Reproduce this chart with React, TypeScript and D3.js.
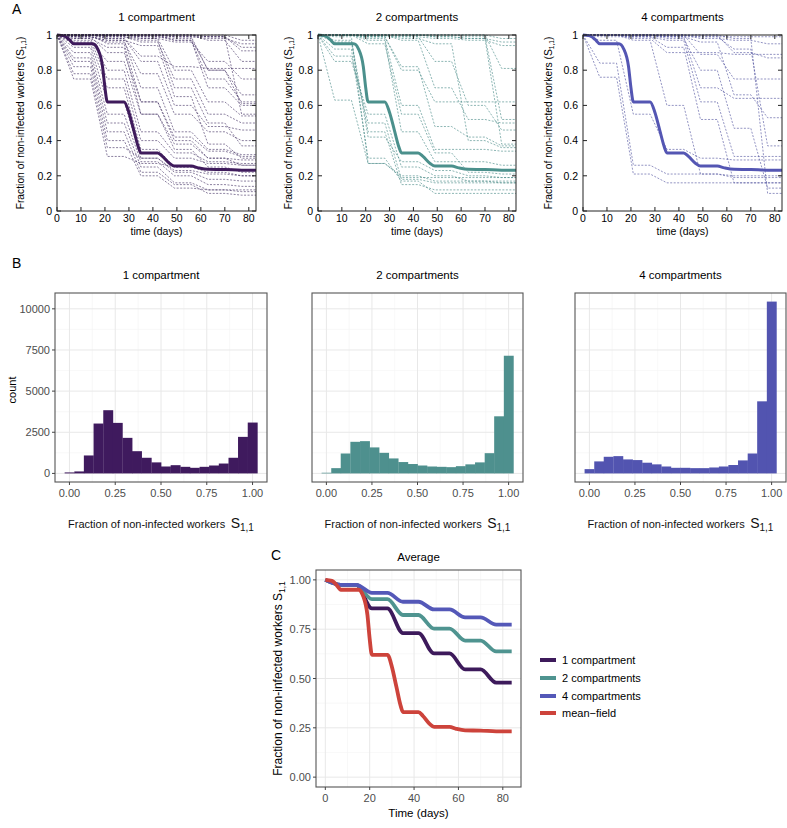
import React from 'react';
import * as d3 from 'd3';

const FONT = "'Liberation Sans', Arial, Helvetica, sans-serif";

// ---------- Panel A / C data ----------
const DAYS = [0, 7, 14, 21, 28, 35, 42, 49, 56, 63, 70, 77, 84];
const MF_DAYS = [0, 3, 5, 7, 15, 17, 19, 20, 21, 28, 30, 32, 34, 35, 42, 44, 47, 49, 56, 59, 63, 70, 77, 84];
const MEAN_FIELD = [1, 0.995, 0.975, 0.95, 0.95, 0.92, 0.82, 0.70, 0.62, 0.62, 0.56, 0.46, 0.36, 0.33, 0.33, 0.31, 0.27, 0.255, 0.255, 0.245, 0.237, 0.236, 0.232, 0.232];
const AVG_1 = [1, 0.975, 0.975, 0.855, 0.855, 0.73, 0.73, 0.627, 0.627, 0.546, 0.546, 0.479, 0.479];
const AVG_2 = [1, 0.975, 0.975, 0.902, 0.902, 0.822, 0.822, 0.753, 0.753, 0.692, 0.692, 0.637, 0.637];
const AVG_4 = [1, 0.975, 0.975, 0.934, 0.934, 0.889, 0.889, 0.85, 0.85, 0.81, 0.81, 0.773, 0.773];

const TRAJ_1 = [
  [1, .97, .97, .75, .75, .40, .40, .30, .30, .27, .27, .26, .26],
  [1, .95, .95, .70, .70, .35, .35, .25, .25, .22, .22, .20, .20],
  [1, .93, .93, .62, .62, .30, .30, .22, .22, .18, .18, .17, .17],
  [1, .90, .90, .55, .55, .28, .28, .20, .20, .15, .15, .14, .14],
  [1, .87, .87, .50, .50, .25, .25, .16, .16, .12, .12, .11, .11],
  [1, .85, .85, .45, .45, .22, .22, .15, .15, .10, .10, .09, .09],
  [1, .82, .82, .40, .40, .20, .20, .13, .13, .12, .12, .12, .12],
  [1, .78, .78, .36, .36, .30, .30, .23, .23, .21, .21, .20, .20],
  [1, .75, .75, .31, .31, .27, .27, .25, .25, .24, .24, .23, .23],
  [1, .98, .98, .80, .80, .45, .45, .33, .33, .28, .28, .27, .27],
  [1, .96, .96, .85, .85, .55, .55, .38, .38, .30, .30, .29, .29],
  [1, .99, .99, .90, .90, .62, .62, .42, .42, .34, .34, .31, .31],
  [1, .99, .99, .97, .97, .70, .70, .45, .45, .35, .35, .32, .32],
  [1, 1, 1, .95, .95, .62, .62, .40, .40, .30, .30, .26, .26],
  [1, .98, .98, .93, .93, .55, .55, .35, .35, .25, .25, .22, .22],
  [1, .99, .99, .96, .96, .78, .78, .55, .55, .45, .45, .40, .40],
  [1, 1, 1, .98, .98, .85, .85, .60, .60, .48, .48, .46, .46],
  [1, 1, 1, .99, .99, .97, .97, .70, .70, .50, .50, .37, .37],
  [1, 1, 1, 1, 1, .98, .98, .80, .80, .62, .62, .54, .54],
  [1, 1, 1, .99, .99, .96, .96, .75, .75, .55, .55, .50, .50],
  [1, .99, .99, .97, .97, .94, .94, .65, .65, .38, .38, .30, .30],
  [1, 1, 1, 1, 1, .99, .99, .98, .98, .80, .80, .66, .66],
  [1, 1, 1, 1, 1, 1, 1, .97, .97, .75, .75, .62, .62],
  [1, 1, 1, .99, .99, .98, .98, .96, .96, .85, .85, .75, .75],
  [1, 1, 1, 1, 1, .99, .99, .97, .97, .70, .70, .60, .60],
  [1, 1, 1, 1, 1, 1, 1, 1, 1, .99, .99, .55, .55],
  [1, 1, 1, 1, 1, 1, 1, .99, .99, .80, .80, .61, .61],
  [1, 1, 1, 1, 1, 1, 1, 1, 1, .97, .97, .85, .85],
  [1, 1, 1, 1, 1, .99, .99, .99, .99, .98, .98, .95, .95],
  [1, 1, 1, 1, 1, 1, 1, .99, .99, .99, .99, .93, .93],
  [1, 1, 1, 1, 1, 1, 1, 1, 1, 1, 1, .97, .97],
  [1, 1, 1, 1, 1, 1, 1, 1, 1, .99, .99, .91, .91],
  [1, 1, 1, .98, .98, .88, .88, .82, .82, .81, .81, .81, .81],
];

const TRAJ_2 = [
  [1, .63, .63, .27, .27, .19, .19, .19, .19, .19, .19, .19, .19],
  [1, .85, .85, .55, .55, .25, .25, .20, .20, .17, .17, .16, .16],
  [1, .88, .88, .50, .50, .18, .18, .16, .16, .16, .16, .16, .16],
  [1, .97, .97, .45, .45, .15, .15, .12, .12, .12, .12, .12, .12],
  [1, .96, .96, .42, .42, .28, .28, .23, .23, .20, .20, .19, .19],
  [1, .99, .99, .27, .27, .20, .20, .17, .17, .17, .17, .17, .17],
  [1, 1, 1, .95, .95, .55, .55, .33, .33, .22, .22, .21, .21],
  [1, 1, 1, .98, .98, .60, .60, .35, .35, .35, .35, .34, .34],
  [1, 1, 1, .97, .97, .45, .45, .28, .28, .28, .28, .26, .26],
  [1, 1, 1, .99, .99, .80, .80, .62, .62, .62, .62, .62, .62],
  [1, 1, 1, 1, 1, .97, .97, .70, .70, .52, .52, .50, .50],
  [1, 1, 1, 1, 1, .99, .99, .85, .85, .60, .60, .46, .46],
  [1, 1, 1, 1, 1, .98, .98, .95, .95, .40, .40, .36, .36],
  [1, 1, 1, 1, 1, 1, 1, .99, .99, .98, .98, .38, .38],
  [1, 1, 1, 1, 1, 1, 1, 1, 1, .99, .99, .52, .52],
  [1, 1, 1, 1, 1, 1, 1, 1, 1, 1, 1, .81, .81],
  [1, 1, 1, 1, 1, 1, 1, .99, .99, .98, .98, .96, .96],
  [1, 1, 1, 1, 1, 1, 1, 1, 1, 1, 1, .98, .98],
  [1, 1, 1, .99, .99, .99, .99, .98, .98, .97, .97, .94, .94],
  [1, .92, .92, .30, .30, .17, .17, .10, .10, .10, .10, .10, .10],
  [1, 1, 1, .99, .99, .82, .82, .48, .48, .42, .42, .37, .37],
];

const TRAJ_4 = [
  [1, .76, .76, .21, .21, .16, .16, .16, .16, .16, .16, .16, .16],
  [1, .84, .84, .26, .26, .21, .21, .21, .21, .19, .19, .19, .19],
  [1, .97, .97, .55, .55, .35, .35, .30, .30, .29, .29, .29, .29],
  [1, 1, 1, .97, .97, .60, .60, .21, .21, .20, .20, .20, .20],
  [1, 1, 1, .99, .99, .93, .93, .52, .52, .16, .16, .16, .16],
  [1, 1, 1, 1, 1, .98, .98, .80, .80, .47, .47, .13, .13],
  [1, 1, 1, .99, .99, .97, .97, .62, .62, .31, .31, .31, .31],
  [1, 1, 1, 1, 1, .99, .99, .96, .96, .66, .66, .53, .53],
  [1, 1, 1, 1, 1, 1, 1, .99, .99, .92, .92, .37, .37],
  [1, 1, 1, 1, 1, 1, 1, .89, .89, .75, .75, .75, .75],
  [1, 1, 1, 1, 1, 1, 1, 1, 1, .98, .98, .10, .10],
  [1, 1, 1, 1, 1, 1, 1, 1, 1, .90, .90, .87, .87],
  [1, 1, 1, .98, .98, .90, .90, .90, .90, .89, .89, .89, .89],
  [1, 1, 1, 1, 1, 1, 1, .98, .98, .97, .97, .95, .95],
  [1, .99, .99, .99, .99, .99, .99, .99, .99, .99, .99, .99, .99],
  [1, 1, 1, 1, 1, .99, .99, .70, .70, .64, .64, .64, .64],
];

// ---------- Panel B data ----------
const BIN_CENTERS = [0, 0.053, 0.105, 0.158, 0.211, 0.263, 0.316, 0.368, 0.421, 0.474,
  0.526, 0.579, 0.632, 0.684, 0.737, 0.789, 0.842, 0.895, 0.947, 1.0];
const BIN_WIDTH = 0.0526;
const HIST_1 = [60, 120, 1090, 3030, 3840, 3070, 2160, 1350, 950, 670, 420, 500, 400, 340, 400, 480, 600, 950, 2220, 3090];
const HIST_2 = [40, 320, 1210, 1920, 1960, 1580, 1250, 910, 690, 570, 480, 420, 400, 380, 440, 550, 670, 1230, 3470, 7150];
const HIST_4 = [260, 730, 1010, 1050, 850, 810, 650, 550, 420, 340, 340, 320, 320, 360, 420, 510, 790, 1210, 4380, 10440];

const A_X_TICKS = [0, 10, 20, 30, 40, 50, 60, 70, 80];
const A_Y_TICKS = [0, 0.2, 0.4, 0.6, 0.8, 1];
const B_X_TICKS = [0, 0.25, 0.5, 0.75, 1];
const B_X_MINOR = [0.125, 0.375, 0.625, 0.875];
const B_Y_TICKS = [0, 2500, 5000, 7500, 10000];
const B_Y_MINOR = [1250, 3750, 6250, 8750];
const C_X_TICKS = [0, 20, 40, 60, 80];
const C_X_MINOR = [10, 30, 50, 70];
const C_Y_TICKS = [0, 0.25, 0.5, 0.75, 1];
const C_Y_MINOR = [0.125, 0.375, 0.625, 0.875];

const LEGEND = ['1 compartment', '2 compartments', '4 compartments', 'mean\u2212field'];
const C_COLORS = ['#3d1a5b', '#4f9490', '#5458b8', '#cd433b'];

function PanelA({ x0, x1, title, color, dash, trajs, ylabX }: any) {
  const y0 = 35, y1 = 211;
  const x = d3.scaleLinear().domain([0, 83]).range([x0, x1]);
  const y = d3.scaleLinear().domain([0, 1]).range([y1, y0]);
  const line = d3.line<number>().x((_, i) => x(DAYS[i])).y(d => y(d));
  const mf = d3.line<number>().x((_, i) => x(MF_DAYS[i])).y(d => y(d)).curve(d3.curveMonotoneX);
  const id = `clipA${x0}`;
  const cx = (x0 + x1) / 2;
  return (
    <g fontFamily={FONT}>
      <defs>
        <clipPath id={id}><rect x={x0} y={y0 - 2} width={x1 - x0} height={y1 - y0 + 2} /></clipPath>
      </defs>
      <text x={cx} y={21} textAnchor="middle" fontSize={11.5}>{title}</text>
      <g clipPath={`url(#${id})`}>
        {trajs.map((t: number[], i: number) => (
          <path key={i} d={line(t) || ''} fill="none" stroke={dash} strokeWidth={0.8}
            strokeDasharray="2,1.5" strokeOpacity={0.75} />
        ))}
        <path d={mf(MEAN_FIELD) || ''} fill="none" stroke={color} strokeWidth={3} />
      </g>
      <rect x={x0} y={y0} width={x1 - x0} height={y1 - y0} fill="none" stroke="#222" strokeWidth={1} />
      {A_X_TICKS.map(t => (
        <g key={t}>
          <line x1={x(t)} x2={x(t)} y1={y1} y2={y1 - 4} stroke="#222" />
          <line x1={x(t)} x2={x(t)} y1={y0} y2={y0 + 4} stroke="#222" />
          <text x={x(t)} y={y1 + 11} textAnchor="middle" fontSize={10.5}>{t}</text>
        </g>
      ))}
      {A_Y_TICKS.map(t => (
        <g key={t}>
          <line x1={x0} x2={x0 + 4} y1={y(t)} y2={y(t)} stroke="#222" />
          <line x1={x1} x2={x1 - 4} y1={y(t)} y2={y(t)} stroke="#222" />
          <text x={x0 - 5} y={y(t) + 3.8} textAnchor="end" fontSize={10.5}>{String(t)}</text>
        </g>
      ))}
      <text x={cx} y={235} textAnchor="middle" fontSize={10.5}>time (days)</text>
      <text transform={`translate(${ylabX},${(y0 + y1) / 2}) rotate(-90)`} textAnchor="middle" fontSize={10.3}>
        Fraction of non-infected workers (S<tspan fontSize={6.5} dy={2}>1,1</tspan><tspan dy={-2}>)</tspan>
      </text>
    </g>
  );
}

function XTitleS({ x, y, size, sSize, subSize }: any) {
  return (
    <text x={x} y={y} textAnchor="middle" fontSize={size} fill="#111">
      Fraction of non-infected workers{'\u2002'}<tspan fontSize={sSize}>S</tspan><tspan fontSize={subSize} dy={3}>1,1</tspan>
    </text>
  );
}

function PanelB({ x0, x1, title, color, counts, showY }: any) {
  const y0 = 293, y1 = 482;
  const x = d3.scaleLinear().domain([-0.0789, 1.0789]).range([x0, x1]);
  const y = d3.scaleLinear().domain([-522, 10962]).range([y1, y0]);
  const cx = (x0 + x1) / 2;
  return (
    <g fontFamily={FONT}>
      <text x={cx} y={279} textAnchor="middle" fontSize={11.5}>{title}</text>
      <rect x={x0} y={y0} width={x1 - x0} height={y1 - y0} fill="#fff" />
      {B_X_MINOR.map(t => <line key={'xm' + t} x1={x(t)} x2={x(t)} y1={y0} y2={y1} stroke="#f3f3f3" strokeWidth={0.6} />)}
      {B_Y_MINOR.map(t => <line key={'ym' + t} x1={x0} x2={x1} y1={y(t)} y2={y(t)} stroke="#f3f3f3" strokeWidth={0.6} />)}
      {B_X_TICKS.map(t => <line key={'xg' + t} x1={x(t)} x2={x(t)} y1={y0} y2={y1} stroke="#e8e8e8" strokeWidth={1} />)}
      {B_Y_TICKS.map(t => <line key={'yg' + t} x1={x0} x2={x1} y1={y(t)} y2={y(t)} stroke="#e8e8e8" strokeWidth={1} />)}
      {counts.map((c: number, i: number) => (
        <rect key={i} x={x(BIN_CENTERS[i] - BIN_WIDTH / 2)} width={x(BIN_CENTERS[i] + BIN_WIDTH / 2) - x(BIN_CENTERS[i] - BIN_WIDTH / 2) + 0.3}
          y={y(c)} height={y(0) - y(c)} fill={color} />
      ))}
      <rect x={x0} y={y0} width={x1 - x0} height={y1 - y0} fill="none" stroke="#555" strokeWidth={1.1} />
      {B_X_TICKS.map(t => (
        <g key={t}>
          <line x1={x(t)} x2={x(t)} y1={y1} y2={y1 + 3} stroke="#444" />
          <text x={x(t)} y={y1 + 15} textAnchor="middle" fontSize={11} fill="#4d4d4d">{d3.format('.2f')(t)}</text>
        </g>
      ))}
      {showY && B_Y_TICKS.map(t => (
        <g key={t}>
          <line x1={x0 - 3} x2={x0} y1={y(t)} y2={y(t)} stroke="#444" />
          <text x={x0 - 5} y={y(t) + 4} textAnchor="end" fontSize={11} fill="#4d4d4d">{t}</text>
        </g>
      ))}
      <XTitleS x={cx} y={528} size={11} sSize={14} subSize={10} />
    </g>
  );
}

function PanelC() {
  const x0 = 316, x1 = 521, y0 = 570, y1 = 787;
  const x = d3.scaleLinear().domain([-4.2, 88.2]).range([x0, x1]);
  const y = d3.scaleLinear().domain([-0.05, 1.05]).range([y1, y0]);
  const smooth = d3.line<number>().x((_, i) => x(DAYS[i])).y(d => y(d)).curve(d3.curveMonotoneX);
  const mf = d3.line<number>().x((_, i) => x(MF_DAYS[i])).y(d => y(d)).curve(d3.curveMonotoneX);
  const series = [AVG_1, AVG_2, AVG_4];
  const legendY = [660, 678, 696, 713];
  return (
    <g fontFamily={FONT}>
      <text x={(x0 + x1) / 2} y={561} textAnchor="middle" fontSize={11.5}>Average</text>
      <rect x={x0} y={y0} width={x1 - x0} height={y1 - y0} fill="#fff" />
      {C_X_MINOR.map(t => <line key={'xm' + t} x1={x(t)} x2={x(t)} y1={y0} y2={y1} stroke="#f3f3f3" strokeWidth={0.6} />)}
      {C_Y_MINOR.map(t => <line key={'ym' + t} x1={x0} x2={x1} y1={y(t)} y2={y(t)} stroke="#f3f3f3" strokeWidth={0.6} />)}
      {C_X_TICKS.map(t => <line key={'xg' + t} x1={x(t)} x2={x(t)} y1={y0} y2={y1} stroke="#e8e8e8" strokeWidth={1} />)}
      {C_Y_TICKS.map(t => <line key={'yg' + t} x1={x0} x2={x1} y1={y(t)} y2={y(t)} stroke="#e8e8e8" strokeWidth={1} />)}
      {series.map((s, i) => (
        <path key={i} d={smooth(s) || ''} fill="none" stroke={C_COLORS[i]} strokeWidth={3.8} />
      ))}
      <path d={mf(MEAN_FIELD) || ''} fill="none" stroke={C_COLORS[3]} strokeWidth={3.8} />
      <rect x={x0} y={y0} width={x1 - x0} height={y1 - y0} fill="none" stroke="#555" strokeWidth={1.1} />
      {C_X_TICKS.map(t => (
        <g key={t}>
          <line x1={x(t)} x2={x(t)} y1={y1} y2={y1 + 3} stroke="#444" />
          <text x={x(t)} y={y1 + 15} textAnchor="middle" fontSize={11} fill="#4d4d4d">{t}</text>
        </g>
      ))}
      {C_Y_TICKS.map(t => (
        <g key={t}>
          <line x1={x0 - 3} x2={x0} y1={y(t)} y2={y(t)} stroke="#444" />
          <text x={x0 - 5} y={y(t) + 4} textAnchor="end" fontSize={11} fill="#4d4d4d">{d3.format('.2f')(t)}</text>
        </g>
      ))}
      <text x={(x0 + x1) / 2} y={817} textAnchor="middle" fontSize={11.5}>Time (days)</text>
      <text transform={`translate(282,${(y0 + y1) / 2}) rotate(-90)`} textAnchor="middle" fontSize={12}>
        Fraction of non-infected workers S<tspan fontSize={8.5} dy={3}>1,1</tspan>
      </text>
      {LEGEND.map((l, i) => (
        <g key={l}>
          <line x1={540} x2={556} y1={legendY[i]} y2={legendY[i]} stroke={C_COLORS[i]} strokeWidth={4} />
          <text x={562} y={legendY[i] + 4} fontSize={11}>{l}</text>
        </g>
      ))}
    </g>
  );
}

export default function App() {
  return (
    <svg width={787} height={828} style={{ position: 'absolute', left: 0, top: 0, background: '#fff' }}>
      <rect width={787} height={828} fill="#fff" />
      <g fontFamily={FONT}>
        <text x={12} y={14} fontSize={14}>A</text>
        <text x={12} y={268} fontSize={14}>B</text>
        <text x={271} y={560} fontSize={14}>C</text>
      </g>
      <PanelA x0={57} x1={256} title="1 compartment" color="#3f1b5c" dash="#3d2a5e" trajs={TRAJ_1} ylabX={24} />
      <PanelA x0={318} x1={516} title="2 compartments" color="#4b908c" dash="#3f8581" trajs={TRAJ_2} ylabX={292} />
      <PanelA x0={583} x1={782} title="4 compartments" color="#5456b3" dash="#4a4c9a" trajs={TRAJ_4} ylabX={552} />
      <PanelB x0={55} x1={267} title="1 compartment" color="#3f1a5e" counts={HIST_1} showY={true} />
      <PanelB x0={312} x1={523} title="2 compartments" color="#4e908e" counts={HIST_2} showY={false} />
      <PanelB x0={575} x1={786} title="4 compartments" color="#5254b0" counts={HIST_4} showY={false} />
      <text transform="translate(16,390) rotate(-90)" textAnchor="middle" fontSize={11} fontFamily={FONT}>count</text>
      <PanelC />
    </svg>
  );
}
